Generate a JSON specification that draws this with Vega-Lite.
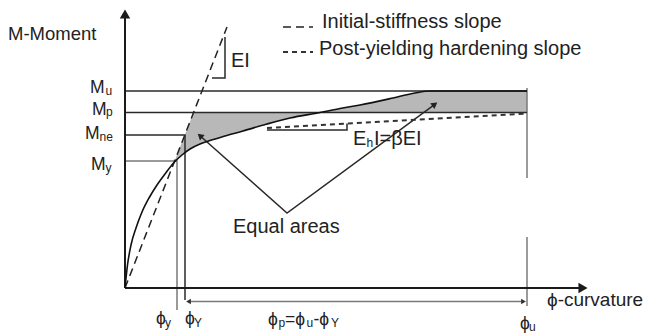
{
  "$schema": "https://vega.github.io/schema/vega-lite/v6.json",
  "width": 647,
  "height": 336,
  "padding": 0,
  "autosize": {"type": "none"},
  "background": "white",
  "config": {"view": {"stroke": null}},
  "datasets": {
    "curve": [
      {"x": 0, "y": 0}, {"x": 0.25, "y": 2.3}, {"x": 0.6, "y": 4.3}, {"x": 1.1, "y": 6.0},
      {"x": 1.7, "y": 7.6}, {"x": 2.4, "y": 9.0}, {"x": 3.2, "y": 10.3}, {"x": 4.0, "y": 11.4},
      {"x": 4.9, "y": 12.55}, {"x": 5.7, "y": 13.3}, {"x": 6.5, "y": 13.9}, {"x": 7.5, "y": 14.4},
      {"x": 8.5, "y": 14.75}, {"x": 10.0, "y": 15.2}, {"x": 11.8, "y": 15.7}, {"x": 14.2, "y": 16.4},
      {"x": 16.5, "y": 17.0}, {"x": 19.5, "y": 17.55}, {"x": 21.5, "y": 17.95}, {"x": 23.5, "y": 18.3},
      {"x": 26.8, "y": 19.0}, {"x": 29.0, "y": 19.5}, {"x": 30.5, "y": 19.7}, {"x": 40.2, "y": 19.7}
    ],
    "hatch": [
      {"x": 4.9, "y": 12.55, "y2": 12.55}, {"x": 5.7, "y": 13.3, "y2": 14.59},
      {"x": 6.5, "y": 13.9, "y2": 16.63}, {"x": 6.86, "y": 14.12, "y2": 17.55},
      {"x": 7.5, "y": 14.4, "y2": 17.55}, {"x": 8.5, "y": 14.75, "y2": 17.55},
      {"x": 10.0, "y": 15.2, "y2": 17.55}, {"x": 11.8, "y": 15.7, "y2": 17.55},
      {"x": 14.2, "y": 16.4, "y2": 17.55}, {"x": 16.5, "y": 17.0, "y2": 17.55},
      {"x": 19.5, "y": 17.55, "y2": 17.55}, {"x": 21.5, "y": 17.55, "y2": 17.95},
      {"x": 23.5, "y": 17.55, "y2": 18.3}, {"x": 26.8, "y": 17.55, "y2": 19.0},
      {"x": 29.0, "y": 17.55, "y2": 19.5}, {"x": 30.5, "y": 17.55, "y2": 19.7},
      {"x": 40.2, "y": 17.55, "y2": 19.7}
    ],
    "segs": [
      {"seg": "yaxis", "kind": "axis", "i": 0, "x": 0, "y": 0}, {"seg": "yaxis", "kind": "axis", "i": 1, "x": 0, "y": 27.0},
      {"seg": "xaxis", "kind": "axis", "i": 0, "x": 0, "y": 0}, {"seg": "xaxis", "kind": "axis", "i": 1, "x": 45.5, "y": 0},
      {"seg": "Mu", "kind": "dark", "i": 0, "x": 0, "y": 19.7}, {"seg": "Mu", "kind": "dark", "i": 1, "x": 40.2, "y": 19.7},
      {"seg": "Mp", "kind": "dark", "i": 0, "x": 0, "y": 17.55}, {"seg": "Mp", "kind": "dark", "i": 1, "x": 40.2, "y": 17.55},
      {"seg": "Mne", "kind": "dark", "i": 0, "x": 0, "y": 15.3}, {"seg": "Mne", "kind": "dark", "i": 1, "x": 6.0, "y": 15.3}, {"seg": "Mne", "kind": "dark", "i": 2, "x": 6.0, "y": -1.2},
      {"seg": "EI", "kind": "dark", "i": 0, "x": 8.7, "y": 21.0}, {"seg": "EI", "kind": "dark", "i": 1, "x": 10.0, "y": 21.0}, {"seg": "EI", "kind": "dark", "i": 2, "x": 10.0, "y": 25.1},
      {"seg": "hard", "kind": "dark", "i": 0, "x": 14.2, "y": 15.8}, {"seg": "hard", "kind": "dark", "i": 1, "x": 22.2, "y": 15.8}, {"seg": "hard", "kind": "dark", "i": 2, "x": 22.2, "y": 16.45},
      {"seg": "arrows", "kind": "dark", "i": 0, "x": 7.5, "y": 15.23}, {"seg": "arrows", "kind": "dark", "i": 1, "x": 16.2, "y": 7.5}, {"seg": "arrows", "kind": "dark", "i": 2, "x": 30.98, "y": 18.36},
      {"seg": "My", "kind": "grey", "i": 0, "x": 0, "y": 12.7}, {"seg": "My", "kind": "grey", "i": 1, "x": 5.2, "y": 12.7}, {"seg": "My", "kind": "grey", "i": 2, "x": 5.2, "y": -2.2},
      {"seg": "phiu1", "kind": "grey", "i": 0, "x": 40.2, "y": 20.0}, {"seg": "phiu1", "kind": "grey", "i": 1, "x": 40.2, "y": 11.0},
      {"seg": "phiu2", "kind": "grey", "i": 0, "x": 40.2, "y": 5.1}, {"seg": "phiu2", "kind": "grey", "i": 1, "x": 40.2, "y": -1.8},
      {"seg": "dim", "kind": "grey", "i": 0, "x": 6.3, "y": -1.35}, {"seg": "dim", "kind": "grey", "i": 1, "x": 39.9, "y": -1.35}
    ],
    "dashes": [
      {"seg": "stiff", "kind": "long", "i": 0, "x": 0, "y": 0}, {"seg": "stiff", "kind": "long", "i": 1, "x": 10.2, "y": 26.1},
      {"seg": "leg1", "kind": "long", "i": 0, "x": 15.8, "y": 26.1}, {"seg": "leg1", "kind": "long", "i": 1, "x": 18.8, "y": 26.1},
      {"seg": "hard", "kind": "short", "i": 0, "x": 14.2, "y": 16.0}, {"seg": "hard", "kind": "short", "i": 1, "x": 40.2, "y": 17.45},
      {"seg": "leg2", "kind": "short", "i": 0, "x": 15.8, "y": 23.6}, {"seg": "leg2", "kind": "short", "i": 1, "x": 18.8, "y": 23.6}
    ],
    "texts": [
      {"role": "title", "t": "M-Moment", "x": -11.7, "y": 24.8},
      {"role": "legend", "t": "Initial-stiffness slope", "x": 19.7, "y": 26.0},
      {"role": "legend", "t": "Post-yielding hardening slope", "x": 19.4, "y": 23.3},
      {"role": "big", "t": "EI", "x": 10.6, "y": 22.1},
      {"role": "big", "t": "Equal areas", "x": 10.8, "y": 5.5},
      {"role": "big", "t": "E", "x": 22.8, "y": 14.3},
      {"role": "big", "t": "I=βEI", "x": 24.9, "y": 14.3},
      {"role": "axislab", "t": "ϕ-curvature", "x": 42.2, "y": -1.8},
      {"role": "lab", "t": "M", "x": -3.5, "y": 19.5},
      {"role": "lab", "t": "M", "x": -3.3, "y": 17.3},
      {"role": "lab", "t": "M", "x": -4.0, "y": 14.9},
      {"role": "lab", "t": "M", "x": -3.4, "y": 11.8},
      {"role": "lab", "t": "ϕ", "x": 3.1, "y": -3.6},
      {"role": "lab", "t": "ϕ", "x": 6.0, "y": -3.6},
      {"role": "lab", "t": "ϕ", "x": 14.3, "y": -3.7},
      {"role": "lab", "t": "=ϕ", "x": 16.0, "y": -3.7},
      {"role": "lab", "t": "-ϕ", "x": 18.85, "y": -3.7},
      {"role": "lab", "t": "ϕ", "x": 39.5, "y": -4.1},
      {"role": "sub", "t": "u", "x": -1.95, "y": 19.3},
      {"role": "sub", "t": "p", "x": -1.9, "y": 17.2},
      {"role": "sub", "t": "ne", "x": -2.55, "y": 14.7},
      {"role": "sub", "t": "y", "x": -1.95, "y": 11.6},
      {"role": "sub", "t": "y", "x": 4.0, "y": -3.85},
      {"role": "sub", "t": "Y", "x": 6.9, "y": -3.85},
      {"role": "sub", "t": "p", "x": 15.35, "y": -3.9},
      {"role": "sub", "t": "u", "x": 18.15, "y": -3.9},
      {"role": "sub", "t": "Y", "x": 20.6, "y": -3.9},
      {"role": "sub", "t": "u", "x": 40.4, "y": -4.3},
      {"role": "sub", "t": "h", "x": 24.15, "y": 14.1}
    ],
    "heads": [
      {"h": "yaxis", "x": 0, "y": 27.4},
      {"h": "xaxis", "x": 45.8, "y": 0},
      {"h": "left", "x": 7.5, "y": 15.23},
      {"h": "right", "x": 30.98, "y": 18.36},
      {"h": "dimL", "x": 6.35, "y": -1.35},
      {"h": "dimR", "x": 39.85, "y": -1.35}
    ]
  },
  "encoding": {
    "x": {"field": "x", "type": "quantitative", "scale": {"domain": [-12.5, 52.2], "nice": false, "zero": false}, "axis": null},
    "y": {"field": "y", "type": "quantitative", "scale": {"domain": [-4.8, 28.8], "nice": false, "zero": false}, "axis": null}
  },
  "layer": [
    {
      "data": {"name": "hatch"},
      "mark": {"type": "area", "fill": "#b8b8b8", "stroke": null},
      "encoding": {"y2": {"field": "y2"}}
    },
    {
      "data": {"name": "segs"},
      "transform": [{"filter": "datum.kind === 'grey'"}],
      "mark": {"type": "line", "stroke": "#7a7a7a", "strokeWidth": 1.5},
      "encoding": {"detail": {"field": "seg"}, "order": {"field": "i"}}
    },
    {
      "data": {"name": "segs"},
      "transform": [{"filter": "datum.kind === 'dark'"}],
      "mark": {"type": "line", "stroke": "#2a2a2a", "strokeWidth": 1.5},
      "encoding": {"detail": {"field": "seg"}, "order": {"field": "i"}}
    },
    {
      "data": {"name": "segs"},
      "transform": [{"filter": "datum.kind === 'axis'"}],
      "mark": {"type": "line", "stroke": "#1a1a1a", "strokeWidth": 2},
      "encoding": {"detail": {"field": "seg"}, "order": {"field": "i"}}
    },
    {
      "data": {"name": "dashes"},
      "transform": [{"filter": "datum.kind === 'long'"}],
      "mark": {"type": "line", "stroke": "#222222", "strokeWidth": 1.5, "strokeDash": [8, 5]},
      "encoding": {"detail": {"field": "seg"}, "order": {"field": "i"}}
    },
    {
      "data": {"name": "dashes"},
      "transform": [{"filter": "datum.kind === 'short'"}],
      "mark": {"type": "line", "stroke": "#333333", "strokeWidth": 2, "strokeDash": [5, 4]},
      "encoding": {"detail": {"field": "seg"}, "order": {"field": "i"}}
    },
    {
      "data": {"name": "curve"},
      "mark": {"type": "line", "stroke": "#111111", "strokeWidth": 1.6, "interpolate": "monotone"},
      "encoding": {}
    },
    {
      "data": {"name": "heads"},
      "transform": [{"filter": "datum.h === 'yaxis'"}],
      "mark": {"type": "point", "shape": "triangle-up", "filled": true, "color": "#1a1a1a", "size": 110, "opacity": 1}
    },
    {
      "data": {"name": "heads"},
      "transform": [{"filter": "datum.h === 'xaxis'"}],
      "mark": {"type": "point", "shape": "triangle-right", "filled": true, "color": "#1a1a1a", "size": 110, "opacity": 1}
    },
    {
      "data": {"name": "heads"},
      "transform": [{"filter": "datum.h === 'left'"}],
      "mark": {"type": "point", "shape": "triangle-up", "filled": true, "color": "#222222", "size": 50, "angle": 311.6, "opacity": 1}
    },
    {
      "data": {"name": "heads"},
      "transform": [{"filter": "datum.h === 'right'"}],
      "mark": {"type": "point", "shape": "triangle-up", "filled": true, "color": "#222222", "size": 50, "angle": 53.7, "opacity": 1}
    },
    {
      "data": {"name": "heads"},
      "transform": [{"filter": "datum.h === 'dimL'"}],
      "mark": {"type": "point", "shape": "triangle-left", "filled": true, "color": "#333333", "size": 30, "opacity": 1}
    },
    {
      "data": {"name": "heads"},
      "transform": [{"filter": "datum.h === 'dimR'"}],
      "mark": {"type": "point", "shape": "triangle-right", "filled": true, "color": "#333333", "size": 30, "opacity": 1}
    },
    {
      "data": {"name": "texts"},
      "transform": [{"filter": "datum.role === 'title'"}],
      "mark": {"type": "text", "font": "Liberation Sans", "fontSize": 18.5, "align": "left", "baseline": "alphabetic", "color": "#222222"},
      "encoding": {"text": {"field": "t"}}
    },
    {
      "data": {"name": "texts"},
      "transform": [{"filter": "datum.role === 'legend'"}],
      "mark": {"type": "text", "font": "Liberation Sans", "fontSize": 20, "align": "left", "baseline": "alphabetic", "color": "#222222"},
      "encoding": {"text": {"field": "t"}}
    },
    {
      "data": {"name": "texts"},
      "transform": [{"filter": "datum.role === 'big'"}],
      "mark": {"type": "text", "font": "Liberation Sans", "fontSize": 20, "align": "left", "baseline": "alphabetic", "color": "#222222"},
      "encoding": {"text": {"field": "t"}}
    },
    {
      "data": {"name": "texts"},
      "transform": [{"filter": "datum.role === 'axislab'"}],
      "mark": {"type": "text", "font": "Liberation Sans", "fontSize": 19, "align": "left", "baseline": "alphabetic", "color": "#222222"},
      "encoding": {"text": {"field": "t"}}
    },
    {
      "data": {"name": "texts"},
      "transform": [{"filter": "datum.role === 'lab'"}],
      "mark": {"type": "text", "font": "Liberation Sans", "fontSize": 17.5, "align": "left", "baseline": "alphabetic", "color": "#222222"},
      "encoding": {"text": {"field": "t"}}
    },
    {
      "data": {"name": "texts"},
      "transform": [{"filter": "datum.role === 'sub'"}],
      "mark": {"type": "text", "font": "Liberation Sans", "fontSize": 12, "align": "left", "baseline": "alphabetic", "color": "#222222"},
      "encoding": {"text": {"field": "t"}}
    }
  ]
}
